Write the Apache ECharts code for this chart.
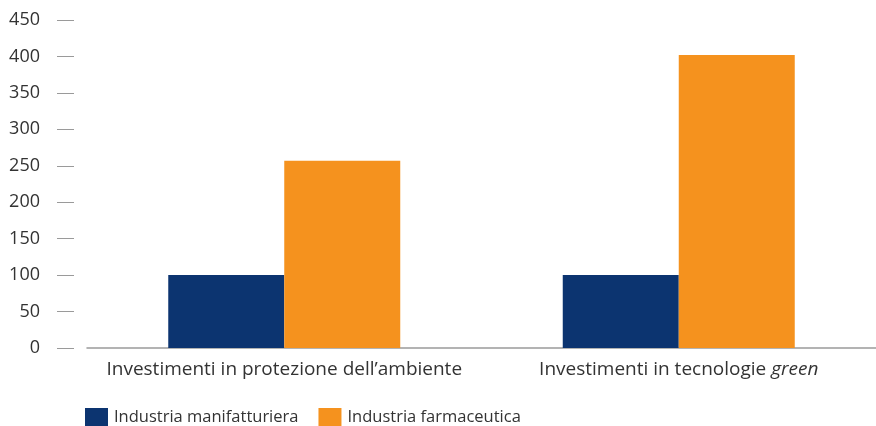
<!DOCTYPE html>
<html>
<head>
<meta charset="utf-8">
<script src="https://cdn.jsdelivr.net/npm/echarts@6/dist/echarts.min.js"></script>
<style>
    html, body { margin: 0; padding: 0; background: #fff; }
    #chart { width: 876px; height: 426px; }
</style>
</head>
<body>
<div id="chart"></div>
<script>
    // dati
    let categories = ['Investimenti in protezione dell’ambiente', 'Investimenti in tecnologie green']
    let seriesNames = ['Industria manifatturiera', 'Industria farmaceutica']
    let manifatturiera = [100, 100]
    let farmaceutica = [257, 402]
    let yTicks = [0, 50, 100, 150, 200, 250, 300, 350, 400, 450]

    let chart = echarts.init(document.getElementById('chart'))
    let font = '"Open Sans", "Noto Sans", sans-serif'
    let grey = '#9a9a9a'

    const option = {
        animation: false,
        textStyle: { fontFamily: font },
        legend: {
            left: 85,
            bottom: 0,
            padding: 0,
            itemWidth: 23,
            itemHeight: 18,
            itemGap: 20,
            icon: 'rect',
            textStyle: { fontSize: 16.5, color: '#333', fontFamily: font, padding: [0, 0, 0, 1] },
            data: seriesNames
        },
        grid: {
            left: 87,
            right: 0,
            top: 20,
            bottom: 78
        },
        xAxis: {
            type: 'category',
            data: categories,
            axisLine: { lineStyle: { color: grey, width: 1.5 } },
            axisTick: { length: 5, interval: 0, lineStyle: { color: grey, width: 1.5 } },
            axisLabel: {
                interval: 0,
                margin: 12,
                fontSize: 19,
                color: '#333',
                fontFamily: font,
                formatter: function (v) {
                    if (v.indexOf('green') >= 0) {
                        return v.replace('green', '') + '{it|green}'
                    }
                    return v
                },
                rich: {
                    it: { fontStyle: 'italic', fontSize: 19, color: '#333', fontFamily: font }
                }
            }
        },
        yAxis: {
            type: 'value',
            min: yTicks[0],
            max: yTicks[yTicks.length - 1],
            interval: 50,
            offset: 13,
            axisLine: { show: false },
            axisTick: { show: true, length: 17, lineStyle: { color: grey } },
            splitLine: { show: false },
            axisLabel: { margin: 34, fontSize: 18, color: '#333', fontFamily: font }
        },
        series: [
            {
                name: seriesNames[0],
                type: 'bar',
                barWidth: 116,
                barGap: '0%',
                itemStyle: { color: '#0c3470' },
                data: manifatturiera
            },
            {
                name: seriesNames[1],
                type: 'bar',
                barWidth: 116,
                barGap: '0%',
                itemStyle: { color: '#f5921e' },
                data: farmaceutica
            }
        ]
    }

    chart.setOption(option)
</script>
</body>
</html>
